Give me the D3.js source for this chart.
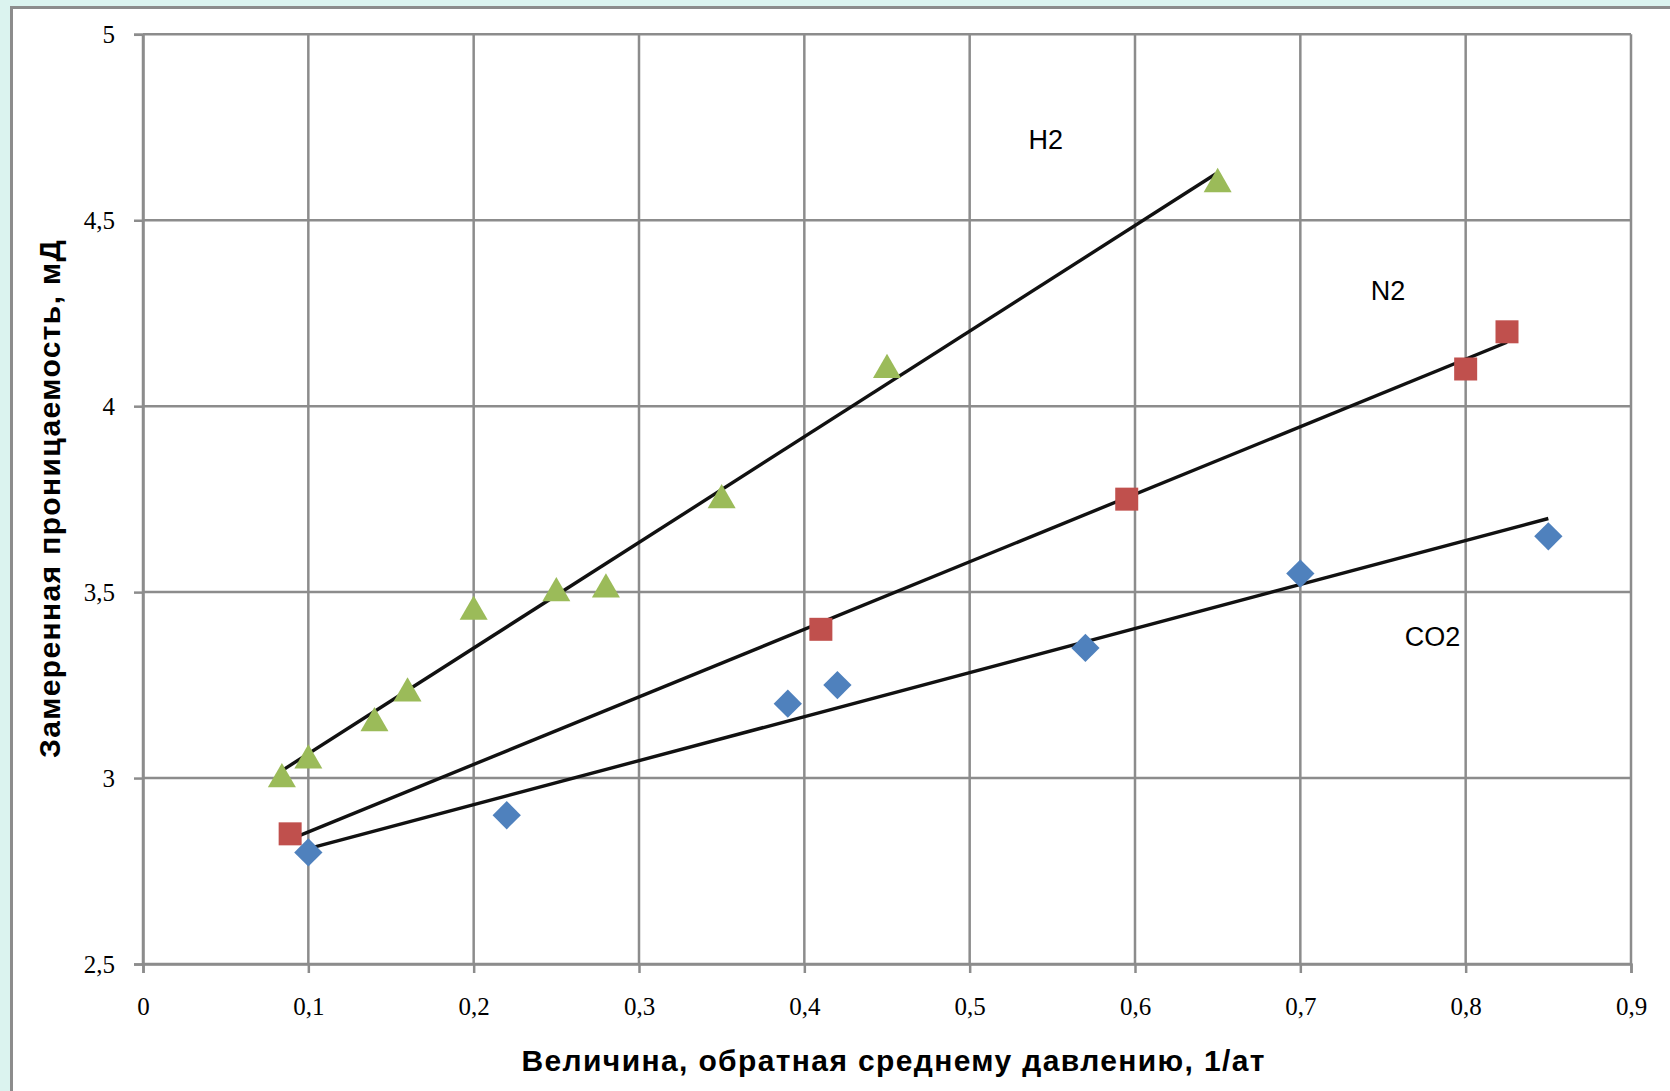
<!DOCTYPE html>
<html><head><meta charset="utf-8">
<script src="https://cdn.jsdelivr.net/npm/d3@7/dist/d3.min.js"></script>
<style>
html,body{margin:0;padding:0;background:#dbf3ef;overflow:hidden;}
svg{display:block;}
</style></head>
<body>
<svg id="chart" width="1670" height="1091"></svg>
<script>
// ---- data ----
const xTicks = [0, 0.1, 0.2, 0.3, 0.4, 0.5, 0.6, 0.7, 0.8, 0.9];
const yTicks = [2.5, 3, 3.5, 4, 4.5, 5];

const h2X = [0.084, 0.1, 0.14, 0.16, 0.2, 0.25, 0.28, 0.35, 0.45, 0.65];
const h2Y = [3.0, 3.05, 3.15, 3.23, 3.45, 3.5, 3.51, 3.75, 4.1, 4.6];

const n2X = [0.089, 0.41, 0.595, 0.8, 0.825];
const n2Y = [2.85, 3.4, 3.75, 4.1, 4.2];

const co2X = [0.1, 0.22, 0.39, 0.42, 0.57, 0.7, 0.85];
const co2Y = [2.8, 2.9, 3.2, 3.25, 3.35, 3.55, 3.65];

// trend line endpoints [x, y]
const h2Trend = [[0.084, 3.02], [0.649, 4.625]];
const n2Trend = [[0.089, 2.835], [0.825, 4.172]];
const co2Trend = [[0.1, 2.81], [0.85, 3.698]];

const labels = [
  {text: "H2", x: 0.546, y: 4.715},
  {text: "N2", x: 0.753, y: 4.31},
  {text: "CO2", x: 0.78, y: 3.38}
];

const xTitle = "Величина, обратная среднему давлению, 1/ат";
const yTitle = "Замеренная  проницаемость, мД";

// ---- drawing ----
const svg = d3.select("#chart");
const W = 1670, H = 1091;

// white panel
svg.append("rect").attr("x", 11.5).attr("y", 7.5).attr("width", W + 10).attr("height", H + 10)
  .attr("fill", "#ffffff").attr("stroke", "#8c8c8c").attr("stroke-width", 3);

const x = d3.scaleLinear().domain([0, 0.9]).range([143, 1631]);
const y = d3.scaleLinear().domain([2.5, 5]).range([964, 34.3]);

const gridColor = "#8c8c8c";
const fmt = d => String(d).replace(".", ",");

// grid
const g = svg.append("g");
g.selectAll(".vg").data(xTicks).join("line")
  .attr("x1", d => x(d)).attr("x2", d => x(d))
  .attr("y1", y(5)).attr("y2", y(2.5))
  .attr("stroke", gridColor).attr("stroke-width", 2.5);
g.selectAll(".hg").data(yTicks).join("line")
  .attr("x1", x(0)).attr("x2", x(0.9))
  .attr("y1", d => y(d)).attr("y2", d => y(d))
  .attr("stroke", gridColor).attr("stroke-width", 2.5);

// axes
const xAxis = svg.append("g").attr("transform", `translate(0,${y(2.5)})`)
  .call(d3.axisBottom(x).tickValues(xTicks).tickFormat(fmt).tickSize(9).tickPadding(24));
const yAxis = svg.append("g").attr("transform", `translate(${x(0)},0)`)
  .call(d3.axisLeft(y).tickValues(yTicks).tickFormat(fmt).tickSize(9).tickPadding(19));
[xAxis, yAxis].forEach(a => {
  a.select(".domain").attr("stroke", gridColor).attr("stroke-width", 2.5);
  a.selectAll(".tick line").attr("stroke", gridColor).attr("stroke-width", 2.5);
  a.selectAll(".tick text").attr("fill", "#000").style("font-family", "'Liberation Serif', serif").style("font-size", "25px");
});

// trend lines
const line = d3.line().x(d => x(d[0])).y(d => y(d[1]));
[h2Trend, n2Trend, co2Trend].forEach(t => {
  svg.append("path").attr("d", line(t)).attr("fill", "none")
    .attr("stroke", "#111").attr("stroke-width", 3.4);
});

// markers
const tri = d3.symbol().type(d3.symbolTriangle).size(340);
svg.append("g").selectAll("path").data(h2X.map((v, i) => [v, h2Y[i]])).join("path")
  .attr("d", tri).attr("transform", d => `translate(${x(d[0])},${y(d[1]) + 1})`)
  .attr("fill", "#9bbb59");

svg.append("g").selectAll("rect").data(n2X.map((v, i) => [v, n2Y[i]])).join("rect")
  .attr("x", d => x(d[0]) - 11.5).attr("y", d => y(d[1]) - 11.5)
  .attr("width", 23).attr("height", 23).attr("fill", "#c0504d");

svg.append("g").selectAll("rect").data(co2X.map((v, i) => [v, co2Y[i]])).join("rect")
  .attr("x", -10).attr("y", -10).attr("width", 20).attr("height", 20)
  .attr("transform", d => `translate(${x(d[0])},${y(d[1])}) rotate(45)`)
  .attr("fill", "#4f81bd");

// series labels
svg.append("g").selectAll("text").data(labels).join("text")
  .attr("x", d => x(d.x)).attr("y", d => y(d.y))
  .attr("text-anchor", "middle").attr("dominant-baseline", "central")
  .style("font-family", "'Liberation Sans', Arial, sans-serif").style("font-size", "27px")
  .attr("fill", "#000").text(d => d.text);

// axis titles
svg.append("text").attr("x", 893).attr("y", 1071).attr("text-anchor", "middle")
  .attr("textLength", 743).attr("lengthAdjust", "spacing")
  .style("font-family", "'Liberation Sans', Arial, sans-serif").style("font-size", "30px")
  .style("font-weight", "bold").attr("fill", "#000").text(xTitle);

svg.append("text").attr("transform", "translate(60,499) rotate(-90)").attr("text-anchor", "middle")
  .attr("textLength", 518).attr("lengthAdjust", "spacing")
  .style("font-family", "'Liberation Sans', Arial, sans-serif").style("font-size", "30px")
  .style("font-weight", "bold").attr("fill", "#000").text(yTitle);
</script>
</body></html>
